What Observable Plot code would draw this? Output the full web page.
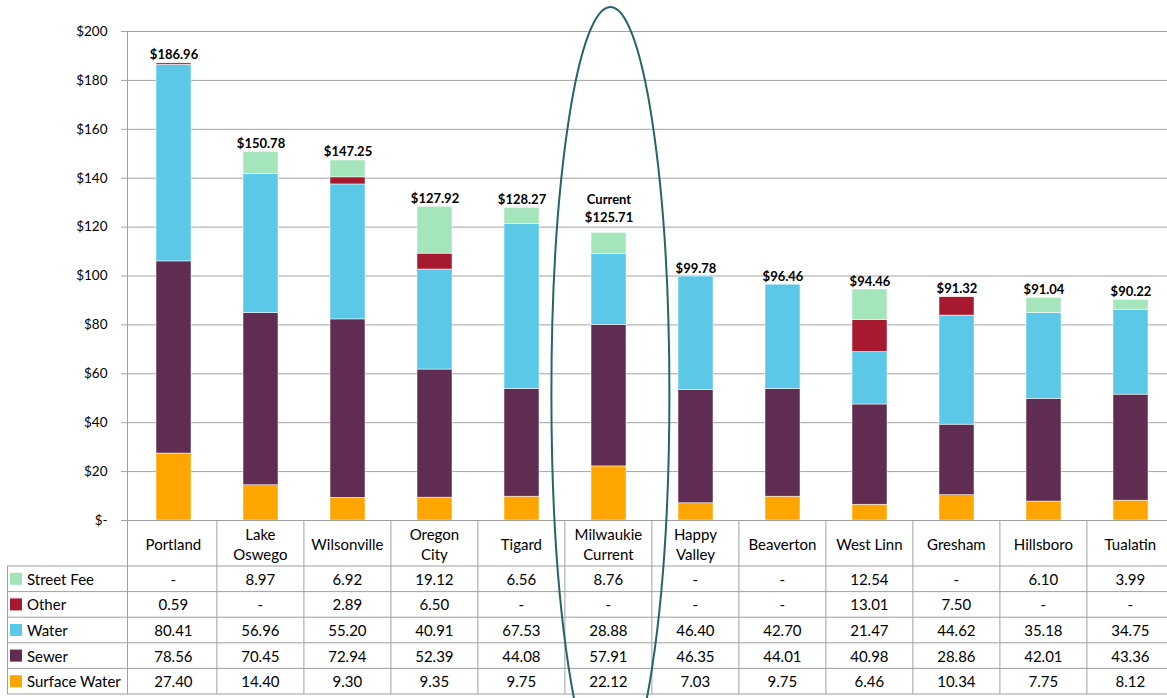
<!DOCTYPE html>
<html><head><meta charset="utf-8">
<script src="https://cdn.jsdelivr.net/npm/d3@7"></script>
<script src="https://cdn.jsdelivr.net/npm/@observablehq/plot@0.6"></script>
<style>
html,body{margin:0;padding:0;overflow:hidden;background:#fff;}
#wrap{position:relative;width:1177px;height:698px;}
#chart{position:absolute;left:0;top:0;}
#chart svg{overflow:visible;}
#overlay{position:absolute;left:0;top:0;pointer-events:none;}
</style></head><body><div id="wrap"><div id="chart"></div><svg id="overlay" width="1177" height="698"></svg></div>
<script>
const cities = ["Portland","Lake Oswego","Wilsonville","Oregon City","Tigard","Milwaukie Current","Happy Valley","Beaverton","West Linn","Gresham","Hillsboro","Tualatin"];
const headerLabels = ["Portland","Lake\nOswego","Wilsonville","Oregon\nCity","Tigard","Milwaukie\nCurrent","Happy\nValley","Beaverton","West Linn","Gresham","Hillsboro","Tualatin"];
const series = ["Street Fee","Other","Water","Sewer","Surface Water"];
const colors = ["#a5e5bb","#a6192e","#5bc8e8","#602c51","#ffa500"];
const stackOrder = ["Surface Water","Sewer","Water","Other","Street Fee"];
const streetFee = [0, 8.97, 6.92, 19.12, 6.56, 8.76, 0, 0, 12.54, 0, 6.10, 3.99];
const other = [0.59, 0, 2.89, 6.50, 0, 0, 0, 0, 13.01, 7.50, 0, 0];
const water = [80.41, 56.96, 55.20, 40.91, 67.53, 28.88, 46.40, 42.70, 21.47, 44.62, 35.18, 34.75];
const sewer = [78.56, 70.45, 72.94, 52.39, 44.08, 57.91, 46.35, 44.01, 40.98, 28.86, 42.01, 43.36];
const surfaceWater = [27.40, 14.40, 9.30, 9.35, 9.75, 22.12, 7.03, 9.75, 6.46, 10.34, 7.75, 8.12];
const totalLabels = ["$186.96","$150.78","$147.25","$127.92","$128.27","Current\n$125.71","$99.78","$96.46","$94.46","$91.32","$91.04","$90.22"];
const yTicks = [0,20,40,60,80,100,120,140,160,180,200];

const valuesBySeries = {"Street Fee": streetFee, "Other": other, "Water": water, "Sewer": sewer, "Surface Water": surfaceWater};
const rows = [];
cities.forEach((c, i) => stackOrder.forEach(s => rows.push({city: c, series: s, value: valuesBySeries[s][i]})));
const totals = cities.map((c, i) => ({city: c, top: series.reduce((a, s) => a + valuesBySeries[s][i], 0), label: totalLabels[i], two: totalLabels[i].includes("\n")}));

const font = "Lato, 'Open Sans', sans-serif";
const chart = Plot.plot({
  width: 1177, height: 521,
  marginLeft: 127, marginRight: 0, marginTop: 31, marginBottom: 1,
  x: {domain: cities, paddingInner: 0.6, paddingOuter: 0.3, axis: null},
  y: {domain: [0, 200], axis: null},
  color: {domain: series, range: colors},
  style: {fontFamily: font, background: "white", color: "black", overflow: "visible"},
  marks: [
    Plot.gridY(yTicks, {stroke: "#a3a3a3", strokeOpacity: 1, strokeWidth: 1}),
    Plot.barY(rows, {x: "city", y: "value", fill: "series", order: stackOrder, stroke: "white", strokeWidth: 0.5}),
    Plot.axisY(yTicks, {anchor: "left", tickSize: 6, tickPadding: 14, tickFormat: d => d === 0 ? "$-" : "$" + d, stroke: "#a3a3a3", fill: "black", fontSize: 13.5, label: null}),
    Plot.text(totals.filter(d => !d.two), {x: "city", y: "top", text: "label", lineAnchor: "bottom", dy: -4, fontWeight: "bold", fontSize: 13, fill: "black"}),
    Plot.text(totals.filter(d => d.two), {x: "city", y: "top", text: "label", lineAnchor: "bottom", dy: -11, lineHeight: 1.38, fontWeight: "bold", fontSize: 13, fill: "black"})
  ]
});
document.getElementById("chart").appendChild(chart);

// Table and annotation overlay, positioned from the chart's x scale
const xs = chart.scale("x");
const step = xs.apply(cities[1]) - xs.apply(cities[0]);
const bw = step * 0.4;
const colLeft = c => xs.apply(c) - step * 0.3;
const svg = d3.select("#overlay");
const lineColor = "#a0a0a0";
const x0 = 127, legendLeft = 7;
const headerTop = 520.5, headerBottom = 566;
const rowH = 25.6;
const tableBottom = headerBottom + rowH * series.length;
const tfs = 15;

// y-axis line
svg.append("line").attr("x1", x0 + 0.5).attr("x2", x0 + 0.5).attr("y1", 31).attr("y2", tableBottom).attr("stroke", lineColor);
// header top
svg.append("line").attr("x1", x0).attr("x2", 1177).attr("y1", headerTop).attr("y2", headerTop).attr("stroke", lineColor);
// row lines
for (let r = 0; r <= series.length; r++) {
  const y = headerBottom + r * rowH;
  svg.append("line").attr("x1", legendLeft).attr("x2", 1177).attr("y1", y).attr("y2", y).attr("stroke", lineColor);
}
svg.append("line").attr("x1", legendLeft + 0.5).attr("x2", legendLeft + 0.5).attr("y1", headerBottom).attr("y2", tableBottom).attr("stroke", lineColor);
// column lines
cities.forEach((c, i) => {
  const xr = colLeft(c) + step;
  svg.append("line").attr("x1", xr).attr("x2", xr).attr("y1", headerTop).attr("y2", tableBottom).attr("stroke", lineColor);
});
// header labels
cities.forEach((c, i) => {
  const cx = colLeft(c) + step / 2;
  const lines = headerLabels[i].split("\n");
  const mid = (headerTop + headerBottom) / 2 + 1;
  lines.forEach((ln, j) => {
    svg.append("text").attr("x", cx).attr("y", mid + (j - (lines.length - 1) / 2) * 20)
      .attr("text-anchor", "middle").attr("dominant-baseline", "central")
      .attr("font-family", font).attr("font-size", tfs).attr("fill", "#000").text(ln);
  });
});
// rows
series.forEach((s, r) => {
  const cy = headerBottom + r * rowH + rowH / 2;
  svg.append("rect").attr("x", 10).attr("y", cy - 6).attr("width", 12).attr("height", 12).attr("fill", colors[r]);
  svg.append("text").attr("x", 27).attr("y", cy).attr("dominant-baseline", "central")
    .attr("font-family", font).attr("font-size", tfs).attr("fill", "#000").text(s);
  cities.forEach((c, i) => {
    const v = valuesBySeries[s][i];
    svg.append("text").attr("x", colLeft(c) + step / 2).attr("y", cy).attr("text-anchor", "middle").attr("dominant-baseline", "central")
      .attr("font-family", font).attr("font-size", tfs).attr("fill", "#000").text(v === 0 ? "-" : v.toFixed(2));
  });
});
// highlight ellipse round Milwaukie
const mx = xs.apply("Milwaukie Current") + bw / 2 + 2;
svg.append("ellipse").attr("cx", mx).attr("cy", 394).attr("rx", 59).attr("ry", 387)
  .attr("fill", "none").attr("stroke", "#256469").attr("stroke-width", 2);
</script></body></html>
